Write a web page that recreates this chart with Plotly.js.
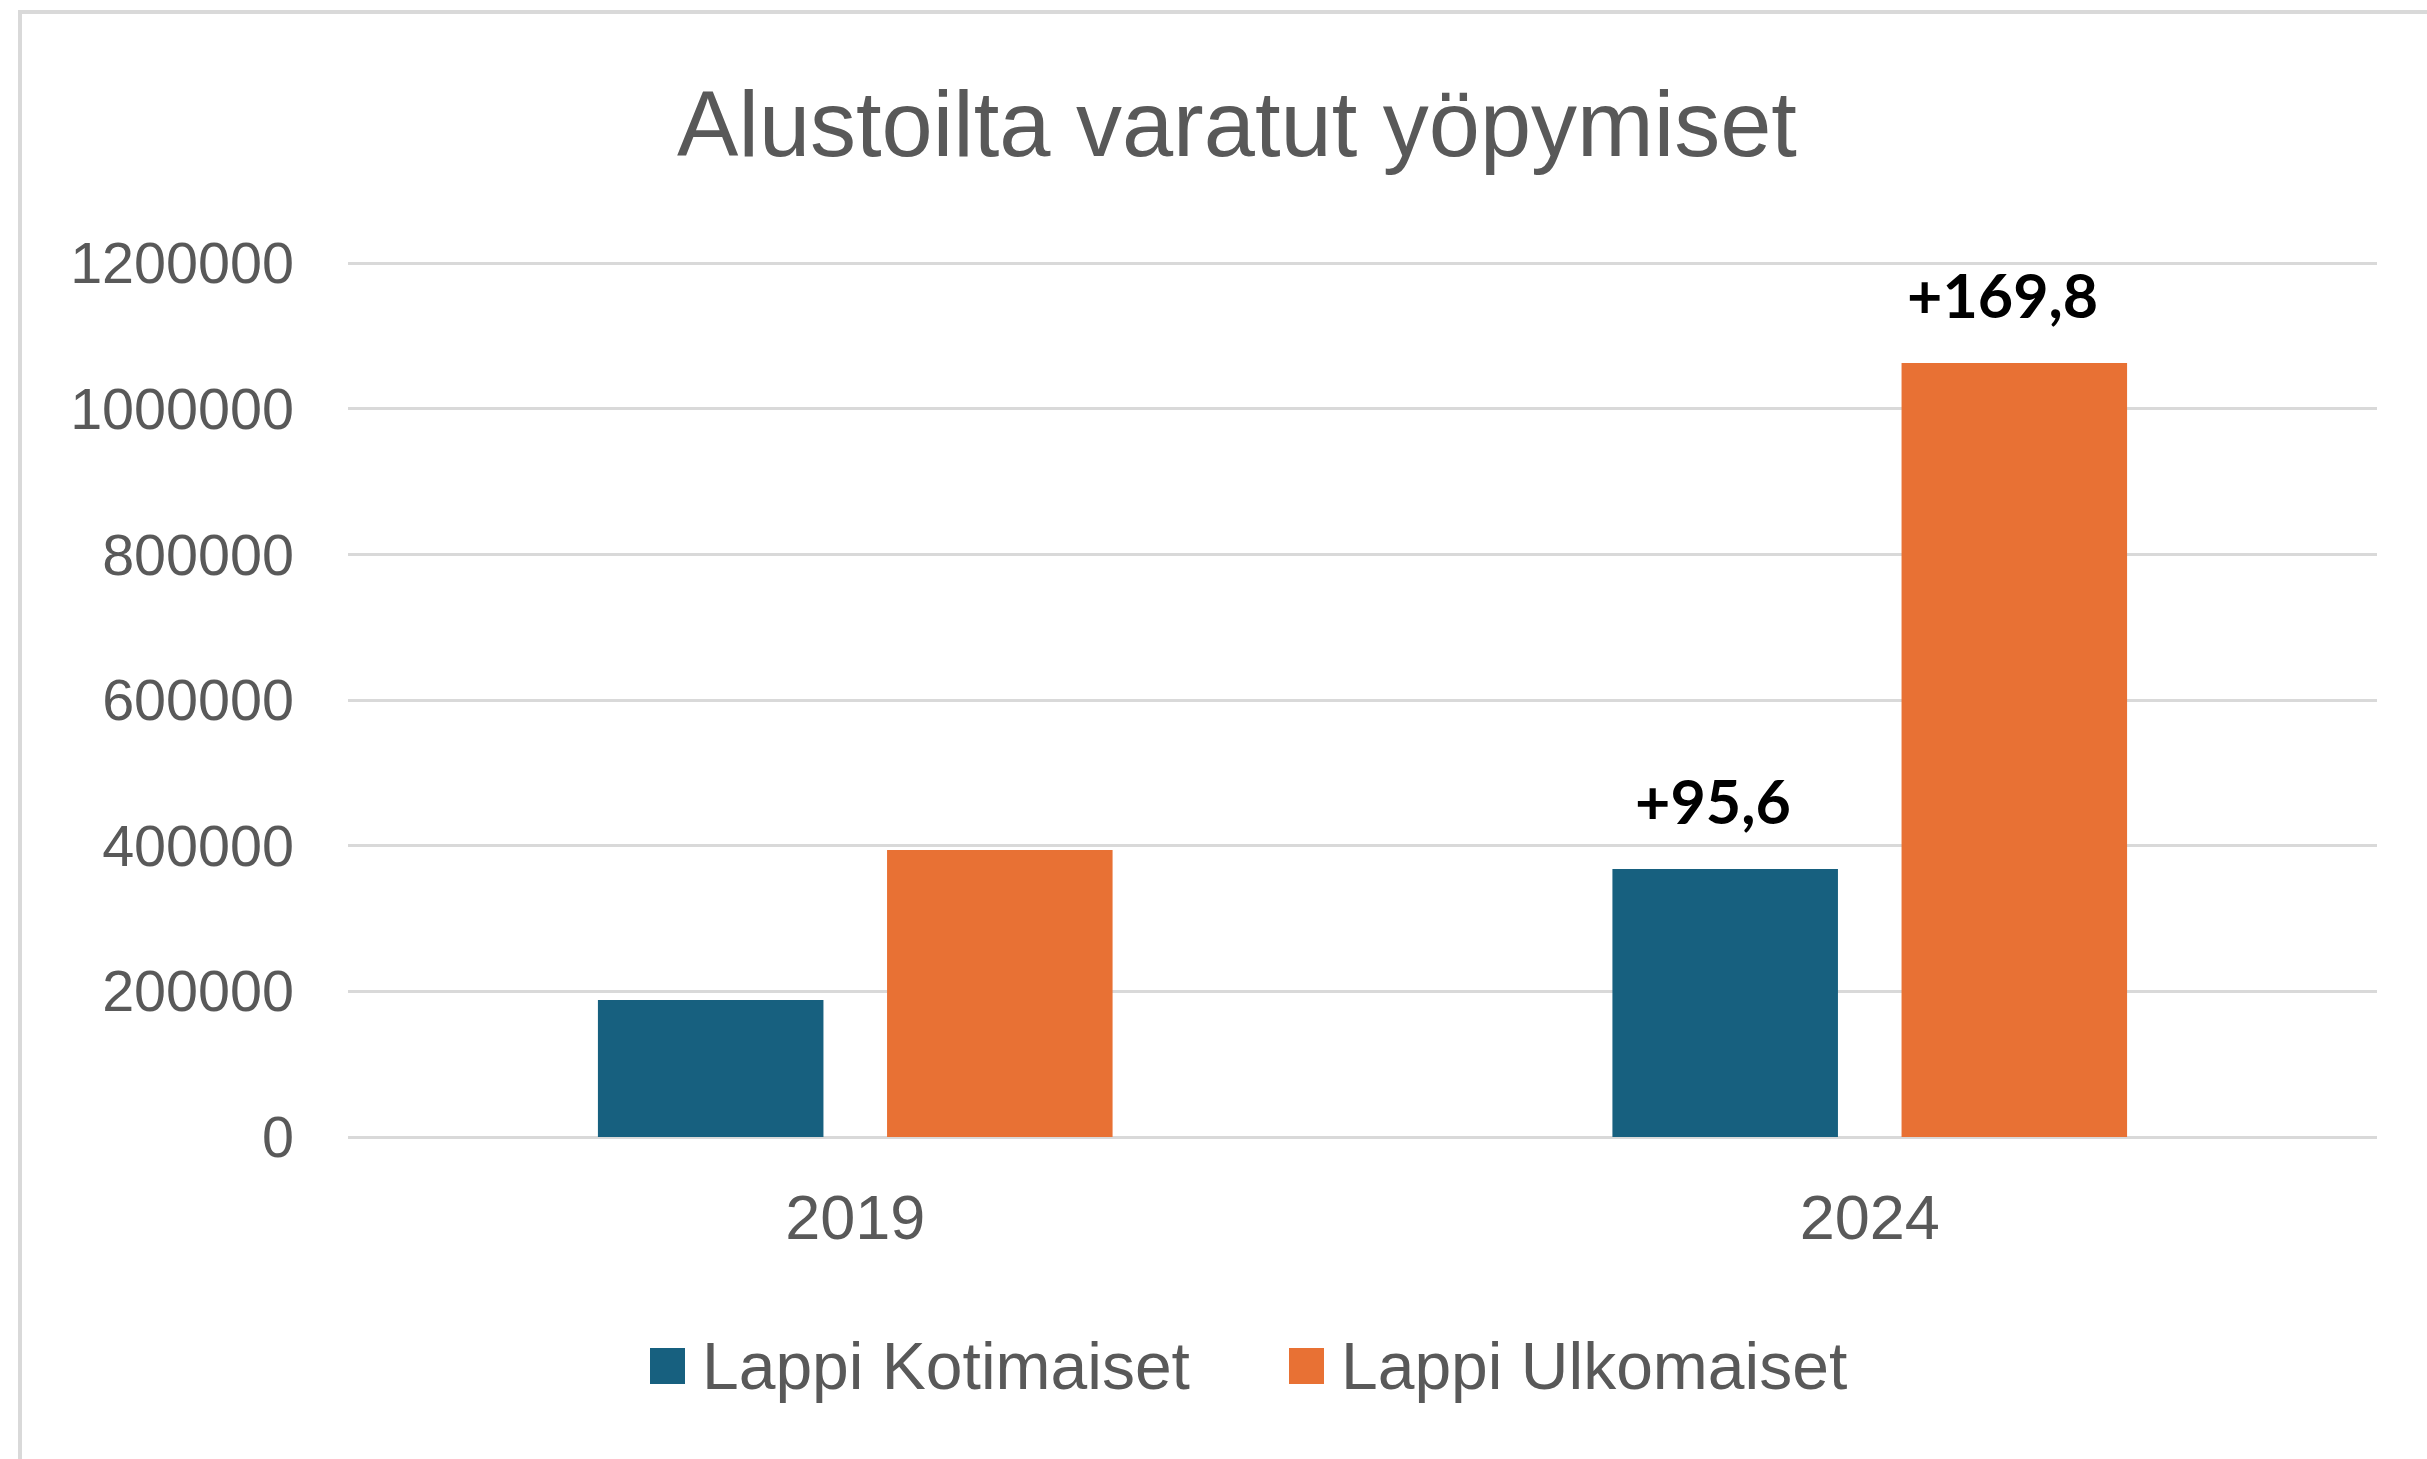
<!DOCTYPE html>
<html>
<head>
<meta charset="utf-8">
<script src="https://cdn.plot.ly/plotly-3.0.1.min.js"></script>
<style>
  html, body { margin: 0; padding: 0; background: #ffffff; }
  #wrap { position: relative; width: 2427px; height: 1459px; overflow: hidden; }
  #chart { position: absolute; left: 0; top: 0; width: 2427px; height: 1459px; }
  #frame { position: absolute; left: 18px; top: 10px; width: 2600px; height: 1600px;
           border-top: 4px solid #d9d9d9; border-left: 4px solid #d9d9d9; pointer-events: none; }
</style>
</head>
<body>
<div id="wrap">
  <div id="chart"></div>
  <div id="frame"></div>
</div>
<script>
// ---- Data ----
const categories = ['2019', '2024'];
const seriesNames = ['Lappi Kotimaiset', 'Lappi Ulkomaiset'];
const kotimaiset = [188000, 368000];
const ulkomaiset = [394000, 1063000];
const kotimaisetLabels = ['', '+95,6'];
const ulkomaisetLabels = ['', '+169,8'];
const yTickValues = [0, 200000, 400000, 600000, 800000, 1000000, 1200000];
const yTickLabels = ['0', '200000', '400000', '600000', '800000', '1000000', '1200000'];

// ---- Style ----
const colors = ['#17607f', '#e87134'];
const textGrey = '#595959';
const gridGrey = '#d9d9d9';
const W = 2427, H = 1459;
const M = { l: 348, r: 50, t: 261, b: 322 };
const BARGAP = 0.43, BARGROUPGAP = 0.22;
const FONT = 'Liberation Sans, Arial, sans-serif';

const seriesValues = [kotimaiset, ulkomaiset];
const seriesLabels = [kotimaisetLabels, ulkomaisetLabels];

const traces = seriesNames.map((name, i) => ({
  type: 'bar',
  name: name,
  x: categories,
  y: seriesValues[i],
  marker: { color: colors[i], line: { width: 0 } },
  hoverinfo: 'x+y+name'
}));

// paper coordinate helpers (for legend placement)
const plotW = W - M.l - M.r, plotH = H - M.t - M.b;
const px2x = px => (px - M.l) / plotW;
const py2y = py => (H - M.b - py) / plotH;

const annotations = [];
// change labels above bars, placed on bar centres through the category axis
const nSeries = seriesNames.length;
const slot = (1 - BARGAP) / nSeries;
seriesLabels.forEach((labels, i) => {
  const offset = -(1 - BARGAP) / 2 + slot * (i + 0.5);
  labels.forEach((lab, j) => {
    if (!lab) return;
    annotations.push({
      xref: 'x', yref: 'y',
      x: j + offset, y: seriesValues[i][j],
      text: '<b>' + lab + '</b>',
      showarrow: false,
      xanchor: 'center', yanchor: 'bottom',
      xshift: -12, yshift: 30,
      font: { family: 'Lato, Open Sans, sans-serif', size: 61, color: '#000000' }
    });
  });
});

// custom legend (large squares like the original)
const legendX = [650, 1289];
const legendY = 1366;
const shapes = [];
seriesNames.forEach((name, i) => {
  shapes.push({
    type: 'rect', xref: 'paper', yref: 'paper',
    x0: px2x(legendX[i]), x1: px2x(legendX[i] + 35),
    y0: py2y(legendY - 18), y1: py2y(legendY + 18),
    fillcolor: colors[i], line: { width: 0 }
  });
  annotations.push({
    xref: 'paper', yref: 'paper',
    x: px2x(legendX[i] + 50), y: py2y(legendY),
    xanchor: 'left', yanchor: 'middle',
    text: name, showarrow: false,
    font: { family: FONT, size: 66, color: textGrey }
  });
});

const layout = {
  width: W, height: H,
  margin: M,
  paper_bgcolor: '#ffffff',
  plot_bgcolor: '#ffffff',
  showlegend: false,
  barmode: 'group',
  bargap: BARGAP,
  bargroupgap: BARGROUPGAP,
  title: {
    text: 'Alustoilta varatut yöpymiset',
    x: 1237 / W, xref: 'container', xanchor: 'center',
    y: 1 - 124 / H, yref: 'container', yanchor: 'middle',
    font: { family: FONT, size: 92, color: textGrey }
  },
  xaxis: {
    type: 'category',
    showgrid: false, showline: false, zeroline: false,
    ticks: '',
    ticklabelstandoff: 38,
    tickfont: { family: FONT, size: 63, color: textGrey }
  },
  yaxis: {
    range: [0, 1203000],
    tickmode: 'array',
    tickvals: yTickValues,
    ticktext: yTickLabels,
    showgrid: true, gridcolor: gridGrey, gridwidth: 3,
    zeroline: true, zerolinecolor: gridGrey, zerolinewidth: 3,
    showline: false, ticks: '',
    ticklabelstandoff: 53,
    tickfont: { family: FONT, size: 57.5, color: textGrey }
  },
  shapes: shapes,
  annotations: annotations
};

Plotly.newPlot('chart', traces, layout, { displayModeBar: false, staticPlot: true });
</script>
</body>
</html>
